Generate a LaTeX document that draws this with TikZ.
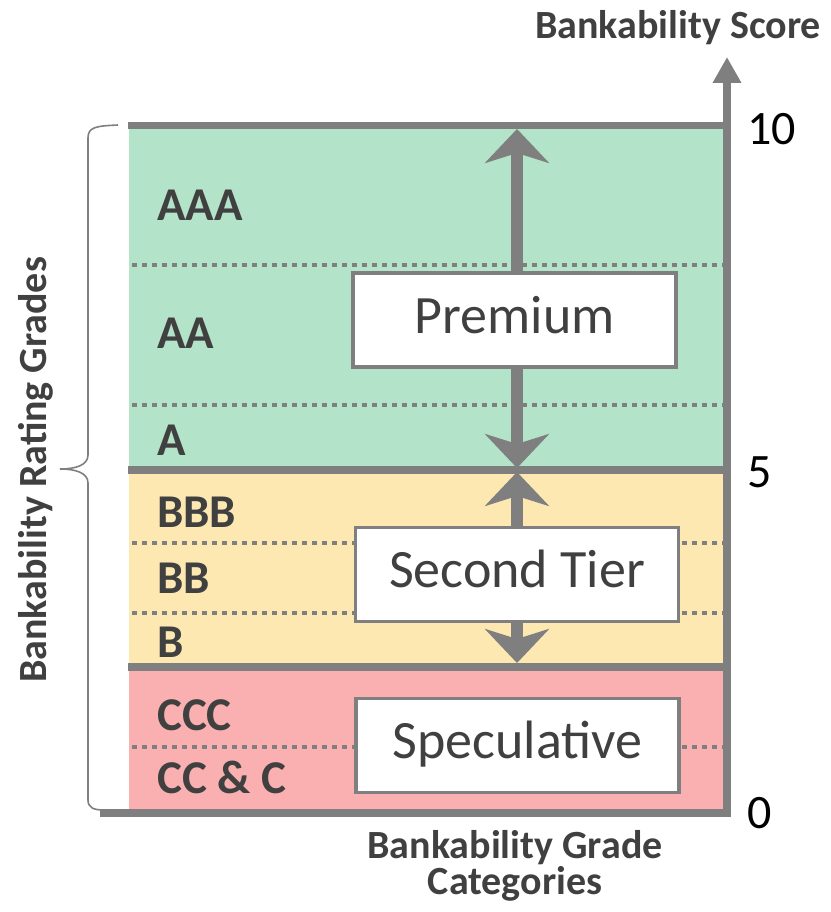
\documentclass[tikz,border=0pt]{standalone}
\usepackage{fontspec}
\setmainfont{Carlito}
\usetikzlibrary{arrows.meta}

\definecolor{premiumgreen}{RGB}{179,227,200}
\definecolor{secondyellow}{RGB}{253,232,178}
\definecolor{specred}{RGB}{250,176,176}
\definecolor{linegray}{RGB}{127,127,127}
\definecolor{textgray}{RGB}{64,64,64}

\begin{document}
\begin{tikzpicture}[x=1pt, y=-1pt,
	grade/.style={anchor=west, inner sep=0pt, text=textgray, text height=30pt, text depth=0pt,
		font=\fontsize{47}{47}\selectfont\bfseries},
	tier/.style={draw=linegray, line width=3.5pt, fill=white, inner sep=0pt,
		minimum width=323pt, minimum height=94pt, text=textgray, text height=38pt, text depth=12pt,
		font=\fontsize{54}{54}\selectfont},
	score/.style={anchor=west, inner sep=0pt, text height=31pt, text depth=0pt,
		font=\fontsize{48}{48}\selectfont},
	caption/.style={inner sep=0pt, align=center, text=textgray, font=\fontsize{40}{36}\selectfont\bfseries},
	bound/.style={draw=linegray, line width=7.5pt},
	subgrade/.style={draw=linegray, line width=4pt, dash pattern=on 4.5pt off 5.5pt},
	span/.style={draw=linegray, line width=12pt,
		{Stealth[length=34pt, width=64pt, inset=10pt]}-{Stealth[length=34pt, width=64pt, inset=10pt]}}]

	\useasboundingbox (0,0) rectangle (830,912);

	% rating bands
	\fill[premiumgreen] (129,126) rectangle (723,470);
	\fill[secondyellow] (129,470) rectangle (723,667);
	\fill[specred] (129,667) rectangle (723,812);

	% sub-grade separators
	\draw[subgrade] (132,265) -- (723,265);
	\draw[subgrade] (132,405) -- (723,405);
	\draw[subgrade] (132,543) -- (723,543);
	\draw[subgrade] (132,613) -- (723,613);
	\draw[subgrade] (132,747) -- (723,747);

	% tier spans
	\coordinate (top) at (517,129);
	\coordinate (midup) at (517,468);
	\coordinate (middown) at (517,472);
	\coordinate (low) at (517,663);
	\draw[span] (midup) -- (top);
	\draw[span] (middown) -- (low);

	% band boundaries and axes
	\draw[bound] (128,125.5) -- (727,125.5);
	\draw[bound] (128,470) -- (727,470);
	\draw[bound] (128,667) -- (727,667);
	\coordinate (origin) at (727,812.5);
	\coordinate (scoretip) at (727,57);
	\draw[draw=linegray, line width=8pt, -{Triangle[length=26pt, width=27pt]}]
		(100,812.5) -- (origin) -- (scoretip);

	% left brace over all grades
	\draw[linegray, line width=1.6pt] (118,125) .. controls (96,126) and (88,127) .. (88,138) -- (88,455)
		.. controls (88,465) and (76,469) .. (60,469) .. controls (76,469) and (88,473) .. (88,483)
		-- (88,800) .. controls (88,808) and (94,810) .. (104,810);

	% grades
	\node[grade] (aaa) at (157,205) {AAA};
	\node[grade] (aa) at (157,333) {AA};
	\node[grade] (a) at (157,440) {A};
	\node[grade] (bbb) at (157,512) {BBB};
	\node[grade] (bb) at (157,578) {BB};
	\node[grade] (b) at (157,642) {B};
	\node[grade] (ccc) at (157,715) {CCC};
	\node[grade] (ccandc) at (157,778) {CC \& C};

	% tier boxes
	\node[tier] (premium) at (514.5,320) {Premium};
	\node[tier] (second) at (517,574.5) {Second Tier};
	\node[tier] (speculative) at (517.5,745.5) {Speculative};

	% score ticks
	\node[score] (ten) at (747,129) {10};
	\node[score] (five) at (747,472) {5};
	\node[score] (zero) at (747,813) {0};

	% axis titles
	\node[caption, anchor=base] (scoretitle) at (678,39) {Bankability Score};
	\node[caption] (categories) at (515,866) {Bankability Grade\\Categories};
	\node[caption, anchor=base, rotate=90] (ratings) at (46,470) {Bankability Rating Grades};
\end{tikzpicture}
\end{document}
